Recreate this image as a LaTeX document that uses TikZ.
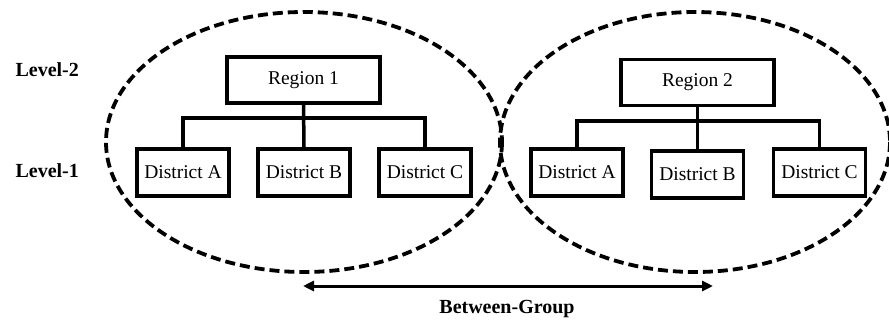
\documentclass[tikz,border=0pt]{standalone}
\usepackage{fontspec}
\setmainfont{Liberation Serif}
\usetikzlibrary{arrows.meta}
\begin{document}
\begin{tikzpicture}[x=1pt,y=-1pt,
  box/.style={draw,line width=3.5pt,rectangle,inner sep=0pt,font=\fontsize{19.5}{21}\selectfont},
  regbox/.style={box,minimum width=153pt,minimum height=46pt},
  distbox/.style={box,minimum width=92pt,minimum height=47pt},
  conn/.style={line width=3.5pt},
  group/.style={line width=3.8pt,dash pattern=on 10pt off 5pt},
  lbl/.style={font=\fontsize{20}{22}\selectfont\bfseries}]
\useasboundingbox (0,0) rectangle (889,322);
% groups
\draw[group] (304,142) ellipse [x radius=198, y radius=130];
\draw[group] (695,142) ellipse [x radius=195, y radius=130];
% left group
\node[regbox] (r1) at (303.5,80) {Region 1};
\node[distbox] (a1) at (183,172.5) {District A};
\node[distbox] (b1) at (304,172.5) {District B};
\node[distbox] (c1) at (425,172.5) {District C};
\coordinate (bus1) at (304,118);
\draw[conn] (a1.north) |- (bus1) -| (c1.north);
\draw[conn] (r1.south) -- (b1.north);
% right group
\node[regbox] (r2) at (697.5,82.5) {Region 2};
\node[distbox] (a2) at (577,172.5) {District A};
\node[distbox] (b2) at (697.5,174.5) {District B};
\node[distbox] (c2) at (819.5,172.5) {District C};
\coordinate (bus2) at (697.5,121);
\draw[conn] (a2.north) |- (bus2) -| (c2.north);
\draw[conn] (r2.south) -- (b2.north);
% level labels
\node[lbl,anchor=west] (l2) at (12,70) {Level-2};
\node[lbl,anchor=west] (l1) at (12,171) {Level-1};
% arrow
\coordinate (arrL) at (303,286);
\coordinate (arrR) at (713,286);
\draw[line width=3pt,{Triangle[length=11pt,width=10pt]}-{Triangle[length=11pt,width=10pt]}] (arrL) -- (arrR);
\node[lbl] (bg) at (507,309) {Between-Group};
\end{tikzpicture}
\end{document}
